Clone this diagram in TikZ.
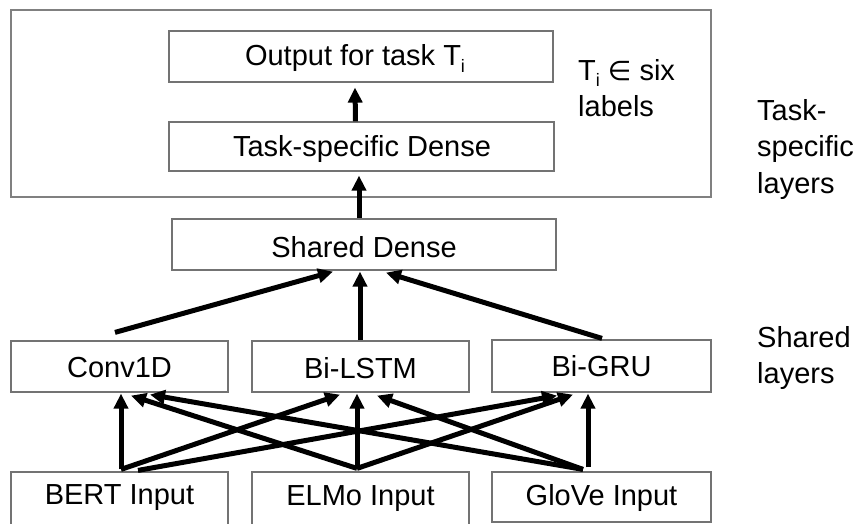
\documentclass[tikz,border=0pt]{standalone}
\usepackage{fontspec}
\setmainfont{Liberation Sans}
\newfontfamily\symfont{DejaVu Sans}
\usetikzlibrary{arrows.meta}
\begin{document}
\begin{tikzpicture}[x=1pt,y=-1pt,
  box/.style={draw=black!55,line width=1.2pt,inner sep=0pt,minimum height=51pt},
  txt/.style={inner sep=0pt,font=\fontsize{29}{36}\selectfont},
  side/.style={inner sep=0pt,align=left,anchor=west,font=\fontsize{29}{36.5}\selectfont},
  flow/.style={line width=5pt,-{Triangle[length=15pt,width=14pt]}}]
\useasboundingbox (0,0) rectangle (862,523);

% task-specific frame
\node[draw=black!50,line width=1.8pt,inner sep=0pt,minimum width=700pt,minimum height=187pt] (frame) at (361,103.5) {};

% upper boxes
\node[box,minimum width=384pt] (out) at (361,56.5) {};
\node[txt] (outt) at (355,58.5) {Output for task T\raisebox{-0.22em}{\fontsize{18}{18}\selectfont i}};
\node[box,minimum width=385pt,minimum height=49pt] (tdense) at (361.5,146.5) {};
\node[txt] (tdenset) at (362,149) {Task-specific Dense};
\node[box,minimum width=384pt] (sdense) at (364,244.5) {};
\node[txt] (sdenset) at (364,247) {Shared Dense};

% shared layers
\node[box,minimum width=217pt] (conv) at (119.5,366.5) {};
\node[txt] (convt) at (119.5,367.5) {Conv1D};
\node[box,minimum width=217pt] (lstm) at (360.5,366.5) {};
\node[txt] (lstmt) at (360.5,368) {Bi-LSTM};
\node[box,minimum width=219pt,minimum height=52pt] (gru) at (601.5,366) {};
\node[txt] (grut) at (601.5,366.5) {Bi-GRU};

% inputs
\node[box,minimum width=217pt,minimum height=60pt] (bert) at (119.5,502) {};
\node[txt] (bertt) at (119.5,498) {BERT Input};
\node[box,minimum width=217pt,minimum height=60pt] (elmo) at (360.5,502) {};
\node[txt] (elmot) at (360.5,498.5) {ELMo Input};
\node[box,minimum width=219pt,minimum height=50pt] (glove) at (601.5,497) {};
\node[txt] (glovet) at (601.5,497.5) {GloVe Input};

% side notes
\node[side] (tset) at (578,88) {T\raisebox{-0.22em}{\fontsize{18}{18}\selectfont i} {\symfont\fontsize{27}{36}\selectfont ∈} six\\labels};
\node[side] (tsl) at (757,149) {Task-\\specific\\layers};
\node[side] (shl) at (757,358) {Shared\\layers};

% top arrows
\draw[flow] ([xshift=-6pt]tdense.north) -- ([xshift=-6pt,yshift=-5pt]out.south);
\draw[flow] ([xshift=-5pt]sdense.north) -- ([xshift=-2.5pt,yshift=-4pt]tdense.south);

% shared layers into shared dense
\draw[flow] ([xshift=-4.5pt,yshift=8pt]conv.north) -- ([xshift=-31pt,yshift=-1pt]sdense.south);
\draw[flow] ([xshift=-0.5pt]lstm.north) -- ([xshift=-4pt,yshift=-1pt]sdense.south);
\draw[flow] ([xshift=0.5pt,yshift=1pt]gru.north) -- ([xshift=22pt,yshift=-2pt]sdense.south);

% inputs into shared layers
\draw[flow] ([xshift=1.5pt,yshift=2pt]bert.north) -- ([xshift=1.5pt,yshift=-1pt]conv.south);
\draw[flow] ([xshift=1.5pt,yshift=2pt]bert.north) -- ([xshift=-20.5pt,yshift=-2pt]lstm.south);
\draw[flow] ([xshift=18.5pt,yshift=1pt]bert.north) -- ([xshift=-44.5pt,yshift=-3pt]gru.south);

\draw[flow] ([xshift=-3.5pt,yshift=3pt]elmo.north) -- ([xshift=11.5pt,yshift=-3pt]conv.south);
\draw[flow] ([xshift=-3.5pt,yshift=3pt]elmo.north) -- ([xshift=-3.5pt,yshift=-1pt]lstm.south);
\draw[flow] ([xshift=-3.5pt,yshift=3pt]elmo.north) -- ([xshift=-28.5pt,yshift=-2pt]gru.south);

\draw[flow] ([xshift=-18.5pt,yshift=2pt]glove.north) -- ([xshift=30.5pt,yshift=-2pt]conv.south);
\draw[flow] ([xshift=-18.5pt,yshift=2pt]glove.north) -- ([xshift=16.5pt,yshift=-3pt]lstm.south);
\draw[flow] ([xshift=-13.5pt,yshift=4pt]glove.north) -- ([xshift=-13.5pt,yshift=-1pt]gru.south);
\end{tikzpicture}
\end{document}
